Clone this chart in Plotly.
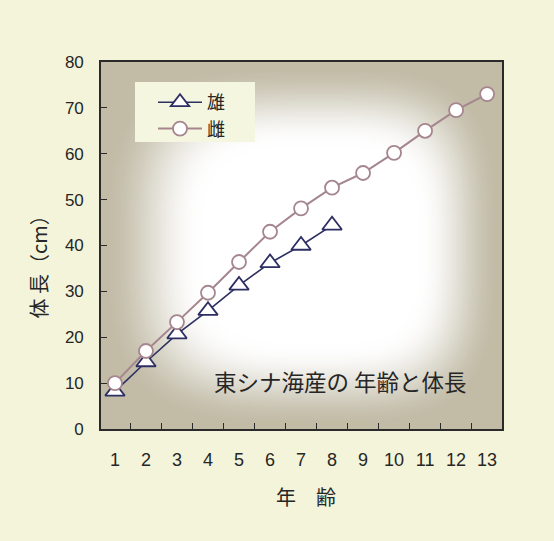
import base64
import struct
import zlib

import numpy as np
import plotly.graph_objects as go

# Age (years) and body length (cm), East China Sea stock
ages = list(range(1, 14))
male_len = [8.2, 14.6, 20.7, 25.8, 31.3, 36.2, 40.0, 44.4]
female_len = [10.0, 17.0, 23.3, 29.7, 36.4, 43.0, 48.1, 52.6, 55.8, 60.2, 65.0, 69.5, 73.0]
x_ticks = [str(a) for a in ages]
y_ticks = list(range(0, 81, 10))

PAGE_BG = "#f3f4da"
LEGEND_BG = "#f5f6df"
MALE_COLOR = "#2d2f63"
FEMALE_COLOR = "#a5868e"
AXIS_COLOR = "#2a2a2a"
TEXT_COLOR = "#262626"


def vignette_png(w=160, h=150, edge=(194, 188, 167), cx=0.1, cy=0.0, r0=0.55, p=3.5):
    """Soft plot-area shading: white centre fading to a tan edge."""
    u = np.linspace(-1, 1, w)[None, :]
    v = np.linspace(-1, 1, h)[:, None]
    du = np.where(u > cx, (u - cx) / (1 - cx), (u - cx) / (1 + cx))
    dv = np.where(v > cy, (v - cy) / (1 - cy), (v - cy) / (1 + cy))
    d = (np.abs(du) ** p + np.abs(dv) ** p) ** (1 / p)
    t = np.clip((d - r0) / (1 - r0), 0, 1)
    f = t * t * (3 - 2 * t)
    img = np.empty((h, w, 3), dtype=np.float64)
    for k in range(3):
        img[:, :, k] = 255 + (edge[k] - 255) * f
    img = img.clip(0, 255).astype(np.uint8)
    raw = b"".join(b"\x00" + img[j].tobytes() for j in range(h))

    def chunk(tag, data):
        c = tag + data
        return struct.pack(">I", len(data)) + c + struct.pack(">I", zlib.crc32(c) & 0xFFFFFFFF)

    png = (b"\x89PNG\r\n\x1a\n"
           + chunk(b"IHDR", struct.pack(">IIBBBBB", w, h, 8, 2, 0, 0, 0))
           + chunk(b"IDAT", zlib.compress(raw, 9))
           + chunk(b"IEND", b""))
    return "data:image/png;base64," + base64.b64encode(png).decode()


fig = go.Figure()

fig.add_trace(go.Scatter(
    x=ages[:len(male_len)], y=male_len, name="雄", mode="lines+markers",
    line=dict(color=MALE_COLOR, width=1.6),
    marker=dict(symbol="triangle-up", size=17, color="white",
                line=dict(color=MALE_COLOR, width=1.8)),
    legendgroup="m",
))
fig.add_trace(go.Scatter(
    x=ages, y=female_len, name="雌", mode="lines+markers",
    line=dict(color=FEMALE_COLOR, width=2),
    marker=dict(symbol="circle", size=14, color="white",
                line=dict(color=FEMALE_COLOR, width=1.8)),
    legendgroup="f",
))

# plot area: x 101..502 px, y 62..429 px
L, R, T, B = 101, 52, 62, 112
PW, PH = 554 - L - R, 541 - T - B


def px(x, y):
    return (x - L) / PW, (T + PH - y) / PH


annotations = []
ax_, ay_ = px(21, 262)
annotations.append(dict(text="体 長（cm）", x=ax_, y=ay_, xref="paper", yref="paper",
                        textangle=-90, showarrow=False,
                        font=dict(size=20, color=TEXT_COLOR, family="Noto Sans CJK JP")))
ax_, ay_ = px(306, 513)
annotations.append(dict(text="年　齢", x=ax_, y=ay_, xref="paper", yref="paper",
                        showarrow=False,
                        font=dict(size=20, color=TEXT_COLOR, family="Noto Sans CJK JP")))
ax_, ay_ = px(340, 399)
annotations.append(dict(text="東シナ海産の 年齢と体長", x=ax_, y=ay_, xref="paper", yref="paper",
                        showarrow=False,
                        font=dict(size=22.5, color=TEXT_COLOR, family="Noto Sans CJK JP")))

# legend panel
bx0, by0 = px(135, 142)
bx1, by1 = px(255, 82)
shapes = [dict(type="rect", xref="paper", yref="paper", x0=bx0, y0=by0, x1=bx1, y1=by1,
               fillcolor=LEGEND_BG, line=dict(width=0), layer="below")]

lx, ly = px(153, 84)

fig.update_layout(
    width=554, height=541,
    margin=dict(l=L, r=R, t=T, b=B),
    paper_bgcolor=PAGE_BG,
    plot_bgcolor="rgba(0,0,0,0)",
    images=[dict(source=vignette_png(), xref="paper", yref="paper", x=0, y=1,
                 sizex=1, sizey=1, xanchor="left", yanchor="top",
                 sizing="stretch", layer="below")],
    shapes=shapes,
    showlegend=True,
    legend=dict(x=lx, y=ly, xanchor="left", yanchor="top",
                bgcolor="rgba(0,0,0,0)", borderwidth=0,
                font=dict(size=18, color=TEXT_COLOR, family="Noto Sans CJK JP"),
                itemwidth=44, traceorder="normal", tracegroupgap=8),
    annotations=annotations,
    font=dict(family="Liberation Sans", color=TEXT_COLOR),
)

fig.update_xaxes(
    range=[0.55, 13.48], tickvals=ages, ticktext=x_ticks, ticks="",
    showgrid=False, zeroline=False,
    showline=True, linecolor=AXIS_COLOR, linewidth=1.6, mirror=True,
    tickfont=dict(size=18, color=TEXT_COLOR, family="Liberation Sans"),
    ticklabelstandoff=14,
    minor=dict(tickvals=[a + 0.5 for a in ages[:-1]], ticks="inside",
               ticklen=6, tickwidth=1.3, tickcolor=AXIS_COLOR, showgrid=False),
)
fig.update_yaxes(
    range=[0, 80], tickvals=y_ticks, ticks="inside", ticklen=6, tickwidth=1.3,
    tickcolor=AXIS_COLOR,
    showgrid=False, zeroline=False,
    showline=True, linecolor=AXIS_COLOR, linewidth=1.6, mirror=True,
    tickfont=dict(size=17, color=TEXT_COLOR, family="Liberation Sans"),
    ticklabelstandoff=12,
)

fig.write_html("out.html")
